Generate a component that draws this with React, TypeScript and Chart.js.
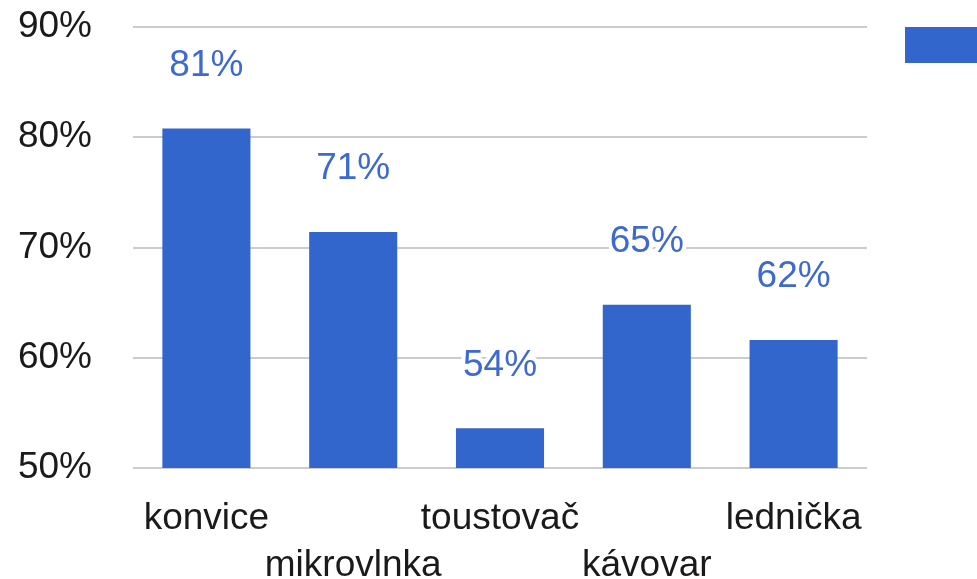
import React, { useEffect, useRef } from "react";
import { Chart, registerables } from "chart.js";

Chart.register(...registerables);

const categories = ["konvice", "mikrovlnka", "toustovač", "kávovar", "lednička"];
const values = [80.8, 71.4, 53.6, 64.8, 61.6];
const yTicks = [50, 60, 70, 80, 90];

const FONT = '"Liberation Sans", Arial, sans-serif';
const BAR = "#3366cc";

const valueLabels = {
  id: "valueLabels",
  afterDatasetsDraw(chart: any) {
    const ctx = chart.ctx;
    const meta = chart.getDatasetMeta(0);
    ctx.save();
    ctx.font = `37px ${FONT}`;
    ctx.textAlign = "center";
    ctx.textBaseline = "middle";
    ctx.lineJoin = "round";
    meta.data.forEach((bar: any, i: number) => {
      const txt = Math.round(values[i]) + "%";
      const y = bar.y - 63;
      ctx.strokeStyle = "#ffffff";
      ctx.lineWidth = 8;
      ctx.strokeText(txt, bar.x, y);
      ctx.fillStyle = "#3d69d2";
      ctx.fillText(txt, bar.x, y);
    });
    ctx.restore();
  },
};

const legendBox = {
  id: "legendBox",
  afterDraw(chart: any) {
    const ctx = chart.ctx;
    const a = chart.chartArea;
    ctx.save();
    ctx.fillStyle = BAR;
    ctx.fillRect(a.right + 38, a.top, 80, 36);
    ctx.restore();
  },
};

export default function App() {
  const ref = useRef<HTMLCanvasElement | null>(null);
  useEffect(() => {
    document.body.style.margin = "0";
    const chart = new Chart(ref.current as HTMLCanvasElement, {
      type: "bar",
      data: {
        labels: categories,
        datasets: [
          {
            label: "podíl",
            data: values,
            backgroundColor: BAR,
            categoryPercentage: 1,
            barPercentage: 0.6,
          },
        ],
      },
      options: {
        animation: false,
        responsive: false,
        maintainAspectRatio: false,
        layout: { padding: { top: 27, right: 110, left: 0, bottom: 0 } },
        plugins: { legend: { display: false }, tooltip: { enabled: false } },
        scales: {
          x: {
            grid: { display: false },
            border: { display: false },
            ticks: {
              color: "#1a1a1a",
              font: { family: FONT, size: 37, lineHeight: 1.28 },
              padding: 19,
              maxRotation: 0,
              autoSkip: false,
              callback: (_v: any, i: number) => (i % 2 === 1 ? ["", categories[i]] : categories[i]),
            },
            afterFit: (s: any) => {
              s.height = 111;
            },
          },
          y: {
            min: 50,
            max: 90,
            afterBuildTicks: (s: any) => {
              s.ticks = yTicks.map((v) => ({ value: v }));
            },
            grid: {
              color: "#cccccc",
              lineWidth: 2,
              drawTicks: true,
              tickLength: 41,
              tickColor: "rgba(0,0,0,0)",
            },
            border: { display: false },
            ticks: {
              color: "#1a1a1a",
              font: { family: FONT, size: 37 },
              padding: 0,
              callback: (v: any) => v + "%",
            },
            afterFit: (s: any) => {
              s.width = 133;
            },
          },
        },
      },
      plugins: [valueLabels, legendBox],
    });
    return () => chart.destroy();
  }, []);
  return (
    <div style={{ position: "fixed", left: 0, top: 0, width: 977, height: 579, background: "#fff" }}>
      <canvas ref={ref} width={977} height={579} />
    </div>
  );
}
